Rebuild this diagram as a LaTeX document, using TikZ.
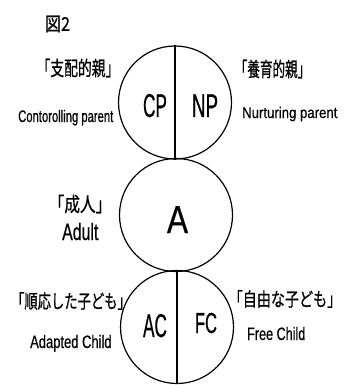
\documentclass[tikz,border=0pt]{standalone}
\usepackage{graphicx}
\usepackage{fontspec}
\setmainfont[FakeBold=0.6]{Liberation Sans}
\newfontfamily\jpfont[FakeBold=0.8]{Noto Sans CJK JP}
\newcommand\sq[3]{\scalebox{#1}[1]{\fontsize{#2}{#2}\selectfont #3}}
\begin{document}
\begin{tikzpicture}[x=1pt,y=-1pt,
  ring/.style={circle,draw,line width=1.2pt,minimum size=113pt,inner sep=0pt},
  divider/.style={line width=1.2pt},
  jp/.style={inner sep=0pt,font=\jpfont},
  en/.style={inner sep=0pt,anchor=base west},
  letter/.style={inner sep=0pt,anchor=base}]
\useasboundingbox[fill=white] (0,0) rectangle (345,385);
% circles
\node[ring] (top) at (175,102.5) {};
\node[ring] (mid) at (176,215) {};
\node[ring] (bot) at (177,327) {};
\draw[divider] (top.north) -- (top.south);
\draw[divider] (bot.north) -- (bot.south);
% title
\node[jp] (title) at (57.5,24) {\sq{0.85}{19}{図2}};
% parent
\node[jp] (cpjp) at (78,68) {\sq{0.69}{20}{「支配的親」}};
\node[en] (cpen) at (18,122) {\sq{0.67}{16.8}{Contorolling parent}};
\node[letter] (cp) at (155,117) {\sq{0.52}{33}{CP}};
\node[letter] (np) at (205,117) {\sq{0.57}{33}{NP}};
\node[jp] (npjp) at (272.5,69) {\sq{0.63}{20}{「養育的親」}};
\node[en] (npen) at (242,118) {\sq{0.85}{15.5}{Nurturing parent}};
% adult
\node[jp] (ajp) at (80,204) {\sq{0.78}{20}{「成人」}};
\node[en] (aen) at (62,240) {\sq{0.67}{23.7}{Adult}};
\node[letter] (a) at (177.5,233) {\sq{0.81}{39}{A}};
% child
\node[jp] (acjp) at (71,301) {\sq{0.70}{19}{「順応した子ども」}};
\node[en] (acen) at (30,348) {\sq{0.72}{18}{Adapted Child}};
\node[letter] (ac) at (155,337) {\sq{0.52}{33}{AC}};
\node[letter] (fc) at (206,333) {\sq{0.57}{29}{FC}};
\node[jp] (fcjp) at (285,299) {\sq{0.74}{19}{「自由な子ども」}};
\node[en] (fcen) at (247,340) {\sq{0.70}{18}{Free Child}};
\end{tikzpicture}
\end{document}
